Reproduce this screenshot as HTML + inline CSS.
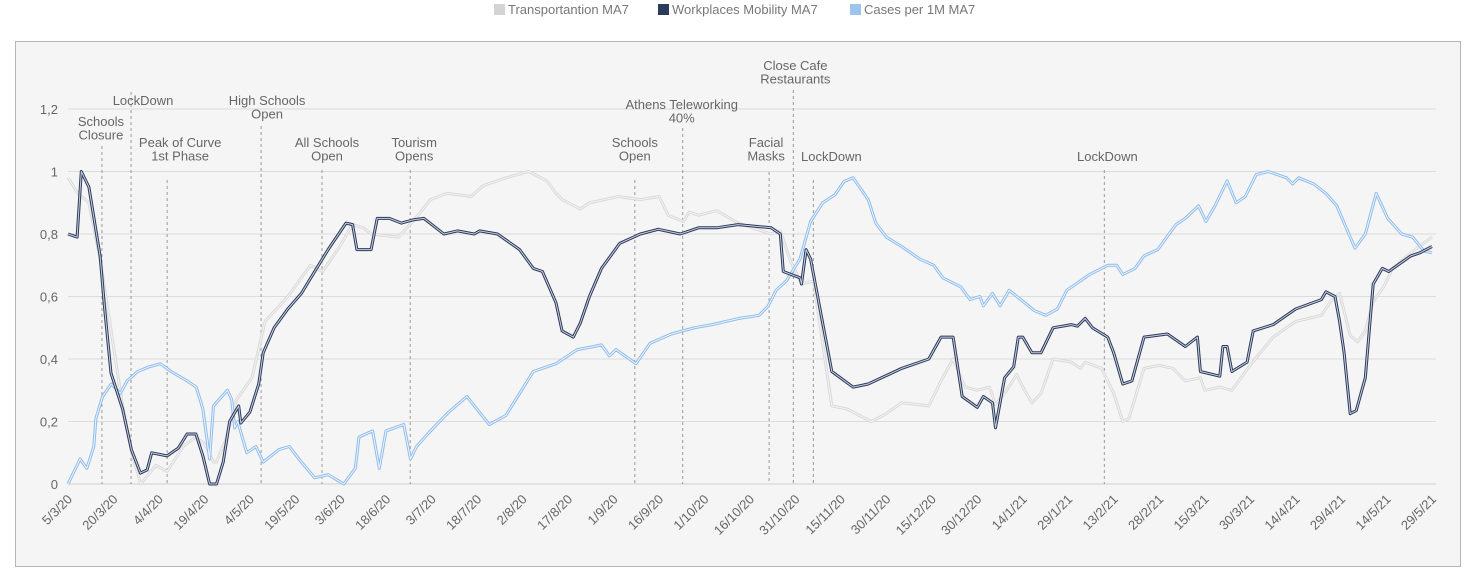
<!DOCTYPE html>
<html><head><meta charset="utf-8"><style>
body{margin:0;background:#fff;font-family:"Liberation Sans",sans-serif;}
svg{display:block}
</style></head><body>
<svg id="c" width="1476" height="582" xmlns="http://www.w3.org/2000/svg">
<g font-size="13" fill="#777">
 <g><rect x="494" y="4" width="11" height="11" fill="#d4d4d4"/><text x="508" y="14">Transportantion MA7</text></g>
 <g><rect x="658" y="4" width="11" height="11" fill="#2c3a5c"/><text x="672" y="14">Workplaces Mobility MA7</text></g>
 <g><rect x="850" y="4" width="11" height="11" fill="#9cc4ee"/><text x="864" y="14">Cases per 1M MA7</text></g>
</g>
<rect x="15.5" y="41.5" width="1445" height="525" fill="#f5f5f5" stroke="#b5b5b5"/>
<g id="grid"></g><g id="ann"></g><g id="series"></g><g id="axes"></g>
</svg>
<script>
const tickDays=[0,15,30,45,60,75,90,105,120,135,150,165,180,195,210,225,240,255,270,285,300,315,330,345,360,375,390,405,420,435,450];
const tickLabels=["5/3/20","20/3/20","4/4/20","19/4/20","4/5/20","19/5/20","3/6/20","18/6/20","3/7/20","18/7/20","2/8/20","17/8/20","1/9/20","16/9/20","1/10/20","16/10/20","31/10/20","15/11/20","30/11/20","15/12/20","30/12/20","14/1/21","29/1/21","13/2/21","28/2/21","15/3/21","30/3/21","14/4/21","29/4/21","14/5/21","29/5/21"];
const yTicks=[0,0.2,0.4,0.6,0.8,1,1.2];
const yTickLabels=["0","0,2","0,4","0,6","0,8","1","1,2"];
const workDays=[0,3,4.4,6.9,10.6,12,14.2,18,20.9,23.9,26.1,27.6,32.7,36.4,39.3,42.2,44.5,46.7,49,51.2,53.3,56.3,57,60,62.9,64.4,68,72.5,77,81.4,85.8,91.7,93.9,95.3,100,102,106,110,113.8,117.4,124,128.5,134,135.8,141.7,149,153.5,156.5,161,163,166.7,169,172,176,182,188.8,194.7,202,208,214,221,232,235,236,241.5,242,243.5,245,252,259,264,275,284,288,292,295,300,302,305,306,309,312,313.5,315,318,321,325,331,333,335.6,338,343,345,348,351,355,362.7,368.6,372.6,373.6,380,381,382.4,384,389,391,397.6,405,413.5,415,418,419.5,421,423,425,428,430.6,433.6,435.7,443,446,450];
const workVals=[0.80,0.79,1.0,0.95,0.73,0.57,0.355,0.24,0.11,0.035,0.045,0.10,0.09,0.115,0.16,0.16,0.09,0.0,0.0,0.07,0.2,0.25,0.195,0.23,0.32,0.42,0.50,0.56,0.61,0.68,0.75,0.835,0.83,0.75,0.75,0.85,0.85,0.835,0.845,0.85,0.80,0.81,0.80,0.81,0.80,0.75,0.69,0.68,0.58,0.49,0.47,0.515,0.60,0.69,0.77,0.80,0.815,0.80,0.82,0.82,0.83,0.82,0.80,0.68,0.66,0.64,0.75,0.72,0.36,0.31,0.32,0.37,0.40,0.47,0.47,0.28,0.245,0.28,0.26,0.18,0.34,0.375,0.47,0.47,0.42,0.42,0.50,0.51,0.505,0.53,0.50,0.47,0.42,0.32,0.33,0.47,0.48,0.44,0.47,0.36,0.345,0.44,0.44,0.36,0.39,0.49,0.51,0.56,0.59,0.615,0.60,0.52,0.42,0.225,0.235,0.34,0.64,0.69,0.68,0.73,0.74,0.76];
const transDays=[0,3.3,6.9,10.6,18,21,24,29,32.7,38,42,45,48,49,52,55.6,60.7,65,72.5,80,84,89,93.9,97.5,100,109,113.8,119.6,125,133,137,144.5,152,158,161,163,169,172,177,181.5,188.8,195,198,203,205,208,214,221,232,235,238.5,242,246,249,252,257,265,269,275,284,288,292,296,300,304,306,309,313,315,318,321,325,331,334,335.6,341,345,348,350,355,360,364.5,368.6,373.6,375,380,384,390,397.6,405,413.5,416.6,419.5,423,425.5,428,430.6,434,437,443,450];
const transVals=[0.98,0.93,0.90,0.72,0.25,0.10,0.0,0.06,0.04,0.12,0.15,0.13,0.07,0.07,0.14,0.27,0.34,0.52,0.60,0.70,0.68,0.75,0.83,0.82,0.80,0.79,0.84,0.91,0.93,0.92,0.955,0.98,1.0,0.97,0.93,0.91,0.88,0.90,0.91,0.92,0.91,0.92,0.86,0.84,0.87,0.86,0.875,0.835,0.80,0.81,0.71,0.64,0.65,0.45,0.25,0.24,0.20,0.22,0.26,0.25,0.33,0.40,0.31,0.30,0.31,0.255,0.29,0.35,0.31,0.26,0.29,0.40,0.39,0.37,0.39,0.37,0.29,0.20,0.21,0.37,0.38,0.37,0.33,0.34,0.30,0.31,0.30,0.38,0.47,0.52,0.54,0.585,0.61,0.475,0.455,0.49,0.585,0.63,0.69,0.74,0.79];
const caseDays=[0,4,6.2,8.5,9.2,11.4,14.3,17.3,19.5,23,26.8,30.5,34,39.3,42.3,44.5,46.7,48,52.6,54,55,56,59,62,64.4,69.6,73,77,81.4,85.8,91,94.8,96,100.5,102.7,104.9,110.8,113,115,119.6,125.6,131.6,139,144.5,149,153.5,161,168,173.5,176,178.6,180.8,187.4,192,199,206.6,212.5,221.4,228,231,233.6,237,241.5,245,249,253,256,259,264,266.5,270,275,281,285.6,288.6,294.6,297.6,300.8,302,305,307.5,310.5,314.3,318.8,322.6,326.4,329.5,337,343,346,348,352,355,359.5,365.5,368.6,373,375.4,378.4,382.4,385.4,388.4,392,396,402,404,406,411,415,418.6,421.7,424.6,428,431.6,435.4,440,443.6,447.4,450];
const caseVals=[0.0,0.08,0.05,0.12,0.21,0.28,0.32,0.29,0.33,0.36,0.375,0.385,0.36,0.33,0.31,0.24,0.08,0.25,0.30,0.27,0.18,0.2,0.10,0.12,0.07,0.11,0.12,0.07,0.02,0.03,0.0,0.05,0.15,0.17,0.05,0.17,0.19,0.08,0.12,0.17,0.23,0.28,0.19,0.22,0.29,0.36,0.385,0.43,0.44,0.445,0.41,0.43,0.385,0.45,0.48,0.50,0.51,0.53,0.54,0.57,0.62,0.65,0.72,0.84,0.90,0.925,0.968,0.98,0.91,0.835,0.79,0.76,0.72,0.70,0.66,0.63,0.59,0.60,0.57,0.61,0.57,0.62,0.59,0.555,0.54,0.56,0.62,0.67,0.70,0.70,0.67,0.69,0.73,0.75,0.83,0.85,0.89,0.84,0.89,0.97,0.90,0.92,0.99,1.0,0.98,0.96,0.98,0.96,0.93,0.89,0.82,0.755,0.80,0.93,0.85,0.80,0.79,0.745,0.74];
const annDays=[11.2,20.8,32.7,63.7,83.8,112.9,187,202.8,231.3,239.3,245.9,341.9];
const annText=[["Schools","Closure"],["LockDown"],["Peak of Curve","1st Phase"],["High Schools","Open"],["All Schools","Open"],["Tourism","Opens"],["Schools","Open"],["Athens Teleworking","40%"],["Facial","Masks"],["Close Cafe","Restaurants"],["LockDown"],["LockDown"]];
const annTextY=[126,105,147,105,147,147,147,109,147,70,161,161];
const annTextDx=[-1,12,13,6,5,4,0,-1,-3,2,18,3];
const annLineTop=[146,92,180,126,170,170,180,128,172,90,180,170];

const NS="http://www.w3.org/2000/svg";
const X0=68, X1=1432, Y0=484, Y1=109;
const xs=d=>X0+d*(X1-X0)/450;
const ys=v=>Y0-v*(Y0-Y1)/1.2;
function mk(tag,attrs,parent){const e=document.createElementNS(NS,tag);for(const k in attrs)e.setAttribute(k,attrs[k]);parent.appendChild(e);return e;}
const grid=document.getElementById('grid'),axes=document.getElementById('axes'),ann=document.getElementById('ann'),ser=document.getElementById('series');
yTicks.forEach((v,i)=>{
 const l=mk('line',{x1:X0,x2:1436,y1:ys(v),y2:ys(v),stroke:v===0?'#cfcfcf':'#dcdcdc','stroke-width':1},grid);
 
 
 const t=mk('text',{x:58,y:ys(v)+5,'text-anchor':'end','font-size':13,fill:'#666'},axes);
 t.textContent=yTickLabels[i];
 
 
});
tickDays.forEach((d,i)=>{
 const x=xs(d)+5;
 const t=mk('text',{x:x,y:500,'text-anchor':'end','font-size':13,fill:'#666',transform:`rotate(-45 ${x} 500)`},axes);
 t.textContent=tickLabels[i];
 
 
});
annDays.forEach((d,i)=>{
 const x=xs(d);
 const l=mk('line',{x1:x,x2:x,y1:annLineTop[i],y2:Y0,stroke:'#999','stroke-width':1,'stroke-dasharray':'3,3'},ann);
 
 
 annText[i].forEach((s,j)=>{
  const t=mk('text',{x:x+annTextDx[i],y:annTextY[i]+j*13.5,'text-anchor':'middle','font-size':13,fill:'#666'},ann);
  t.textContent=s;
  
  
 });
});
function series(days,vals,outer,inner,name){
 const pts=days.map((d,i)=>xs(d).toFixed(1)+','+ys(vals[i]).toFixed(1)).join(' ');
 const g=mk('g',{},ser);
 
 
 mk('polyline',{points:pts,fill:'none',stroke:outer,'stroke-width':3,'stroke-linejoin':'round'},g);
 mk('polyline',{points:pts,fill:'none',stroke:inner,'stroke-width':1,'stroke-linejoin':'round'},g);
}
series(transDays,transVals,'#dadada','#f2f2f2','transportation-line');
series(caseDays,caseVals,'#8fbcec','#eef5fd','cases-line');
series(workDays,workVals,'#2c3a5c','#c9cfdc','workplaces-line');
</script>
</body></html>
